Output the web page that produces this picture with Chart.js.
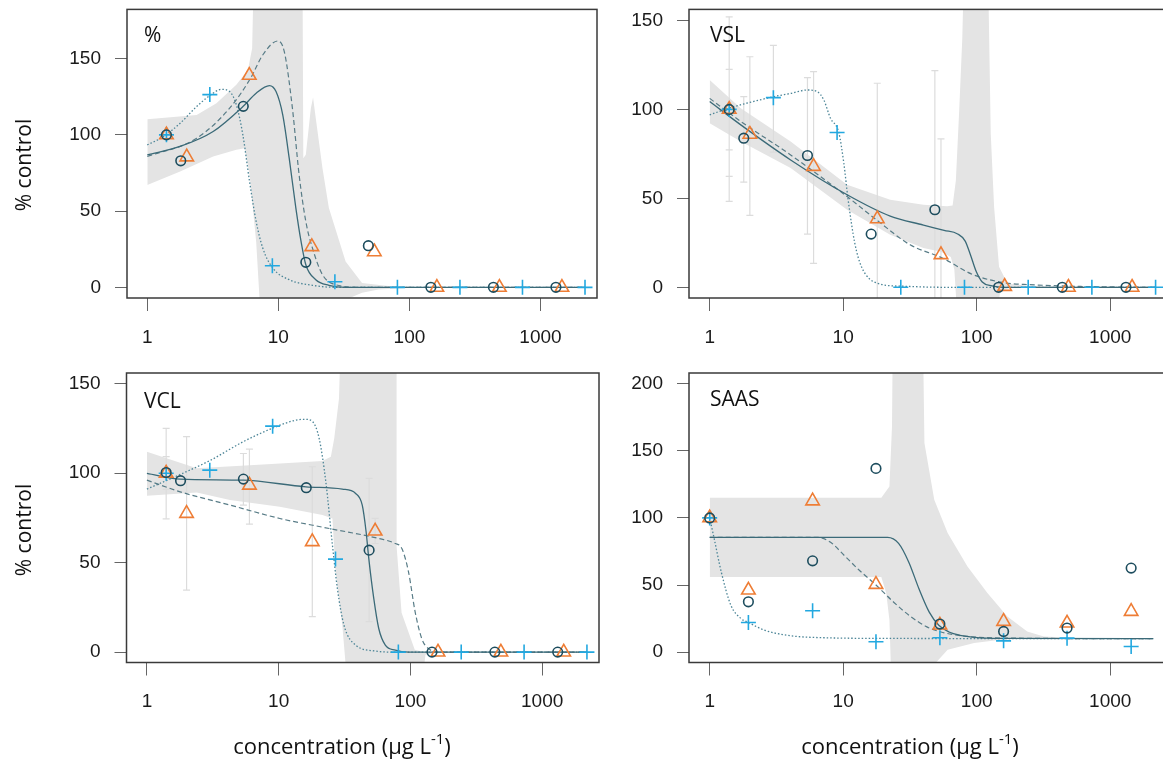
<!DOCTYPE html>
<html>
<head>
<meta charset="utf-8">
<script src="https://cdn.jsdelivr.net/npm/chart.js@4.4.1/dist/chart.umd.min.js"></script>
<style>
  html, body { margin: 0; padding: 0; background: #fff; overflow: hidden; width: 1163px; height: 762px; }
  .panel { position: absolute; }
  .txt { position: absolute; font-family: 'Open Sans', sans-serif; color: #111; white-space: nowrap; line-height: 1; }
  .ptitle { font-size: 21px; }
  .ytitle { font-size: 21px; transform: translate(-50%, -50%) rotate(-90deg); }
  .xtitle { font-size: 22px; transform: translateX(-50%); }
  .xtitle span { font-size: 15px; position: relative; top: -10px; }
</style>
</head>
<body>
<div class="panel" style="left:0;top:0;width:620px;height:362px"><canvas id="c1"></canvas></div>
<div class="panel" style="left:600px;top:0;width:580px;height:362px"><canvas id="c2"></canvas></div>
<div class="panel" style="left:0;top:362px;width:620px;height:400px"><canvas id="c3"></canvas></div>
<div class="panel" style="left:600px;top:362px;width:580px;height:400px"><canvas id="c4"></canvas></div>

<div class="txt ptitle" style="left:144px;top:24px">%</div>
<div class="txt ptitle" style="left:710px;top:24px">VSL</div>
<div class="txt ptitle" style="left:144px;top:390px">VCL</div>
<div class="txt ptitle" style="left:710px;top:388px">SAAS</div>
<div class="txt ytitle" style="left:23px;top:165px">% control</div>
<div class="txt ytitle" style="left:23px;top:530px">% control</div>
<div class="txt xtitle" style="left:342px;top:734px">concentration (µg L<span>-1</span>)</div>
<div class="txt xtitle" style="left:910px;top:734px">concentration (µg L<span>-1</span>)</div>

<script>
// concentrations (µg/L); first value is the control
const concCircle = [1.4, 1.8, 5.4, 16.2, 48.6, 145.8, 437.4, 1312];
const concTriangle = [1.4, 2, 6, 18, 54, 162, 486, 1458];
const concCross = [1.4, 3, 9, 27, 81, 243, 729, 2187];
const concSAAS = [1, 1.95, 5.9, 17.6, 53, 159, 475, 1435];

const xTicks = [1, 10, 100, 1000];
const yTicks150 = [0, 50, 100, 150];
const yTicks200 = [0, 50, 100, 150, 200];

// % panel
const pctCircle = [100, 83, 118.7, 16.4, 27.3, 0, 0, 0];
const pctTriangle = [100, 85.5, 139, 26.6, 23.3, 0, 0, 0];
const pctCross = [100, 126.4, 14.2, 3.7, 0, 0, 0, 0];
const pctSolid = [[1,86.9],[1.78,92.4],[3.18,102.2],[5.37,118.6],[6.77,127.3],[8.55,132.3],[9.6,128.4],[10.8,113.1],[12.1,84.7],[13.6,52],[14.9,30.1],[16.2,14.8],[19.3,5],[24.3,1.3],[32.6,0],[2187,0]];
const pctDashed = [[1,85.8],[2.38,97.8],[4.25,117.5],[6.13,137.1],[7.6,152.4],[9.9,161.6],[11.1,154.6],[12.8,117.5],[14.4,73.8],[16.2,43.2],[18.2,25.8],[21.7,8.3],[27.3,1.7],[43.5,0],[2187,0]];
const pctDotted = [[1,93.4],[1.33,98.9],[1.78,107.6],[2.38,118.6],[3.09,126.6],[3.68,129.9],[4.25,128.4],[4.78,119.7],[5.36,100],[6.03,69.4],[6.77,43.2],[7.6,25.8],[9.06,12.7],[12.1,5],[18.2,1.3],[27.3,0],[2187,0]];
const pctBandUpper = [[1,110.3],[2.38,113.1],[3.37,120.7],[4.78,132.8],[5.86,142.6],[6.31,156.8],[6.47,200],[15.3,200],[15.5,84.7],[16.2,86.9],[17.7,117.5],[18.4,124.5],[19.3,110.9],[21.7,78.2],[24.3,52],[32.6,17],[43.5,2.8],[77.9,0.4],[2187,0]];
const pctBandLower = [[1,67.2],[1.78,76],[3.18,85.8],[4.78,90.2],[5.53,91.3],[6.03,73.8],[6.77,30.1],[7.18,-7],[7.3,-20],[28,-20],[35,-7],[43.5,-3.5],[58,-1.5],[104,-0.3],[2187,0]];

// VSL panel
const vslCircle = [100, 83.8, 74.1, 29.9, 43.6, 0, 0, 0];
const vslTriangle = [100, 86, 67.9, 38.5, 18.3, 0.5, 0, 0];
const vslCross = [100, 106.6, 87, 0, 0, 0, 0, 0];
const vslSolid = [[1,104.4],[1.71,91.3],[4.04,71.6],[10.7,52],[22.5,40],[39.9,35],[57,32],[72,30],[82,26],[90,18],[99,9],[110,3],[130,0.8],[160,0],[2187,0]];
const vslDashed = [[1,106.2],[1.71,93.2],[4.04,74.4],[10.7,51],[18.4,37],[31.7,23.9],[55.3,16.5],[94.1,7.1],[167,2.4],[249,1.5],[600,0.5],[2187,0]];
const vslDotted = [[1,96.9],[1.38,100.6],[3.04,107.2],[4.04,109],[5.38,110.9],[6.39,110],[7.16,105.3],[8.03,95],[9.27,87],[10.1,70],[10.9,49],[12.2,25],[13.7,11.6],[18.2,2.2],[28.3,0.6],[60,0],[2187,0]];
const vslBandUpper = [[1,116.5],[1.71,100.6],[4.04,81.9],[10.7,57.6],[22.5,49.2],[39.9,46.4],[60,45.5],[66,46],[69.8,60],[74,100],[78,140],[81.5,200],[120.3,200],[127.4,86.4],[135,45.2],[147,11.6],[170,2.2],[250,0.8],[2187,0.3]];
const vslBandLower = [[1,92.2],[1.71,81.9],[4.04,67],[10.7,43.6],[22.5,29.6],[39.9,22.1],[54,20],[64,17],[68,10],[72,-20],[140,-20],[150,-2],[175,-0.4],[2187,0]];
const vslErrX = [1.4, 1.4, 1.4, 1.8, 2, 3, 5.4, 6, 18, 48.6, 54];
const vslErrLo = [48.3, 62.3, 77.3, 59.1, 40.4, 76, 29.9, 13.5, -10, -10, -10];
const vslErrHi = [152, 122.5, 100, 107.2, 129.6, 136, 117.8, 121.2, 114.7, 121.8, 83.4];

// VCL panel
const vclCircle = [100.4, 95.8, 96.7, 91.9, 57, 0, 0, 0];
const vclTriangle = [100, 77.5, 93.3, 61.7, 67.6, 0, 0, 0];
const vclCross = [100, 101.7, 126.3, 52, 0, 0, 0, 0];
const vclSolid = [[1,99.9],[1.79,96.7],[5.38,96.1],[16.1,92.4],[30.4,91.1],[38.4,88.7],[43.1,82.2],[46.1,67.3],[48.3,52.4],[52.7,30],[57.5,13.2],[64.5,3.9],[76.8,1.1],[96.7,0],[2187,0]];
const vclDashed = [[1,96.1],[1.79,89.6],[4.27,82.2],[10.2,74.7],[24.2,69.1],[57.5,63.5],[76.8,60.7],[86.1,57.9],[96.7,44.9],[108.6,22.5],[121.9,7.6],[136.8,2],[172,0],[2187,0]];
const vclDotted = [[1,91.1],[1.79,99.3],[3.05,107.3],[5.38,117.6],[9.15,125.4],[13.6,129.7],[16.1,130.1],[18.1,128.8],[20.3,119.4],[22.8,95.2],[25.6,59.8],[27.9,35.6],[31.3,15.1],[38.4,3.9],[54.2,0.6],[76.8,0],[2187,0]];
const vclBandUpper = [[1,112],[2.39,102.7],[7.6,104.9],[21.5,106.8],[24.9,109.2],[26.4,119.4],[28.7,141.8],[30.3,200],[78.5,200],[78.6,58.9],[85.7,22],[107.9,1.3],[127.6,0],[2187,0]];
const vclBandLower = [[1,87.4],[2.39,89.2],[4.27,85],[10.2,81.2],[21.5,76.6],[25.6,74.7],[27,44.9],[30.4,15.1],[32.1,-5.4],[33,-20],[121.9,-20],[130,-1.5],[180,0],[2187,0]];
const vclErrX = [1.4, 1.4, 2, 5.4, 6, 18, 48.6, 54];
const vclErrLo = [74.5, 91, 34.7, 82.2, 71.5, 19.8, 17, 60.7];
const vclErrHi = [125, 109.3, 120.4, 111, 113.5, 103.6, 97.1, 74.7];

// SAAS panel
const saasCircle = [100, 37.5, 68, 136.9, 20.9, 15.4, 17.9, 62.6];
const saasTriangle = [100, 46.2, 112.6, 50.4, 20.1, 22.8, 21.6, 30.3];
const saasCross = [100, 22.1, 30.8, 7.7, 10.7, 8.4, 10.4, 4.2];
const saasSolid = [[1,85.5],[21.5,85.5],[26,81],[31,67],[37,47],[44,30],[52,20],[62,15],[75,12.5],[96,11],[150,10.2],[2100,10]];
const saasDashed = [[1,85.5],[6.4,85.5],[8,82],[10.2,72],[13.2,61],[17.6,50],[24,37],[32,26.5],[42,19],[54,15],[80,12],[150,10.5],[2100,10]];
const saasDotted = [[1,100],[1.08,84.7],[1.22,59.9],[1.44,35],[1.71,25.1],[1.95,22.1],[2.56,16.4],[4.04,12.2],[7.16,10.7],[22.5,10.2],[2100,10]];
const saasBandUpper = [[1,115],[19.3,115],[22.2,123.4],[23.2,168],[23.6,250],[39.4,250],[40.6,155.8],[48.1,113.5],[60.6,88.7],[85.3,63.8],[120.3,44],[169.7,26.5],[239,15.4],[318,11.6],[600,10.3],[2100,10]];
const saasBandLower = [[1,56],[19.3,56],[21,44],[22.2,24],[22.9,-20],[38.3,-20],[60.6,1.7],[95.7,6.7],[151,9.2],[239,10.1],[600,10],[2100,10]];

const colCircle = '#1d4d5e';
const colTriangle = '#ee7d35';
const colCross = '#22a8e0';
const colSolid = '#3b6a78';
const colDashed = '#587c87';
const colDotted = '#4c8597';
const colBand = '#e4e4e4';
const colErr = '#dcdcdc';
const tickFont = { family: "'Liberation Sans', Arial, sans-serif", size: 19 };

const xy = (xs, ys) => xs.map((x, i) => ({ x: x, y: ys[i] }));
const pairs = arr => arr.map(p => ({ x: p[0], y: p[1] }));
function errData(xs, lo, hi) {
  const out = [];
  xs.forEach((x, i) => { out.push({ x: x, y: lo[i] }, { x: x, y: hi[i] }, { x: x, y: null }); });
  return out;
}

const boxPlugin = {
  id: 'box',
  afterDraw(chart) {
    const a = chart.chartArea, c = chart.ctx;
    c.save();
    c.strokeStyle = '#3a3a3a';
    c.lineWidth = 1.5;
    c.strokeRect(a.left, a.top, a.right - a.left, a.bottom - a.top);
    c.restore();
  }
};

function makePanel(id, p) {
  const datasets = [
    { data: xy(p.concC, p.circle), showLine: false, pointStyle: 'circle', pointRadius: 4.8,
      pointBorderColor: colCircle, pointBackgroundColor: 'rgba(0,0,0,0)', pointBorderWidth: 1.6, order: 0 },
    { data: xy(p.concT, p.triangle), showLine: false, pointStyle: 'triangle', pointRadius: 7.8,
      pointBorderColor: colTriangle, pointBackgroundColor: 'rgba(0,0,0,0)', pointBorderWidth: 1.6, order: 0 },
    { data: xy(p.concX, p.cross), showLine: false, pointStyle: 'cross', pointRadius: 7.5,
      pointBorderColor: colCross, pointBorderWidth: 1.6, order: 0 },
    { data: pairs(p.solid), pointRadius: 0, borderColor: colSolid, borderWidth: 1.3,
      cubicInterpolationMode: 'monotone', fill: false, order: 1 },
    { data: pairs(p.dashed), pointRadius: 0, borderColor: colDashed, borderWidth: 1.2, borderDash: [5, 3],
      cubicInterpolationMode: 'monotone', fill: false, order: 1 },
    { data: pairs(p.dotted), pointRadius: 0, borderColor: colDotted, borderWidth: 1.3, borderDash: [1.5, 2],
      cubicInterpolationMode: 'monotone', fill: false, order: 1 },
    { data: pairs(p.bandUpper), pointRadius: 0, borderWidth: 0, borderColor: 'rgba(0,0,0,0)',
      backgroundColor: colBand, fill: '+1', order: 3 },
    { data: pairs(p.bandLower), pointRadius: 0, borderWidth: 0, borderColor: 'rgba(0,0,0,0)',
      fill: false, order: 3 }
  ];
  if (p.errX) {
    datasets.push({ data: errData(p.errX, p.errLo, p.errHi), borderColor: colErr, borderWidth: 1.2,
      pointStyle: 'line', pointRadius: 3.5, pointBorderColor: colErr, pointBorderWidth: 1.2,
      spanGaps: false, fill: false, order: 2 });
  }
  return new Chart(document.getElementById(id), {
    type: 'line',
    data: { datasets: datasets },
    options: {
      responsive: true,
      maintainAspectRatio: false,
      animation: false,
      layout: { padding: { left: 0, top: p.padTop, right: p.padRight, bottom: 0 } },
      plugins: { legend: { display: false }, tooltip: { enabled: false } },
      scales: {
        x: {
          type: 'logarithmic', min: p.xmin, max: p.xmax,
          afterBuildTicks: s => { s.ticks = xTicks.map(v => ({ value: v })); },
          afterFit: s => { s.height = p.xH; s.paddingLeft = 0; s.paddingRight = 0; },
          ticks: { callback: v => String(v), font: tickFont, color: '#1a1a1a', padding: 15, autoSkip: false, maxRotation: 0 },
          grid: { drawOnChartArea: false, drawTicks: true, tickLength: 13, color: '#666', lineWidth: 1 },
          border: { display: false }
        },
        y: {
          type: 'linear', min: p.ymin, max: p.ymax,
          afterBuildTicks: s => { s.ticks = p.yTicks.map(v => ({ value: v })); },
          afterFit: s => { s.width = p.yW; s.paddingTop = 0; s.paddingBottom = 0; },
          ticks: { callback: v => String(v), font: tickFont, color: '#1a1a1a', padding: 14 },
          grid: { drawOnChartArea: false, drawTicks: true, tickLength: 12, color: '#666', lineWidth: 1 },
          border: { display: false }
        }
      }
    },
    plugins: [boxPlugin]
  });
}

makePanel('c1', {
  concC: concCircle, concT: concTriangle, concX: concCross,
  circle: pctCircle, triangle: pctTriangle, cross: pctCross,
  solid: pctSolid, dashed: pctDashed, dotted: pctDotted,
  bandUpper: pctBandUpper, bandLower: pctBandLower,
  xmin: 0.745, xmax: 2700, ymin: -7, ymax: 182.3, yTicks: yTicks150,
  padTop: 9, padRight: 23, yW: 127, xH: 64
});
makePanel('c2', {
  concC: concCircle, concT: concTriangle, concX: concCross,
  circle: vslCircle, triangle: vslTriangle, cross: vslCross,
  solid: vslSolid, dashed: vslDashed, dotted: vslDotted,
  bandUpper: vslBandUpper, bandLower: vslBandLower,
  errX: vslErrX, errLo: vslErrLo, errHi: vslErrHi,
  xmin: 0.725, xmax: 2640, ymin: -6, ymax: 156.2, yTicks: yTicks150,
  padTop: 9, padRight: 13.5, yW: 89, xH: 64
});
makePanel('c3', {
  concC: concCircle, concT: concTriangle, concX: concCross,
  circle: vclCircle, triangle: vclTriangle, cross: vclCross,
  solid: vclSolid, dashed: vclDashed, dotted: vclDotted,
  bandUpper: vclBandUpper, bandLower: vclBandLower,
  errX: vclErrX, errLo: vclErrLo, errHi: vclErrHi,
  xmin: 0.747, xmax: 2700, ymin: -5.8, ymax: 156, yTicks: yTicks150,
  padTop: 11, padRight: 21, yW: 126.5, xH: 99.5
});
makePanel('c4', {
  concC: concSAAS, concT: concSAAS, concX: concSAAS,
  circle: saasCircle, triangle: saasTriangle, cross: saasCross,
  solid: saasSolid, dashed: saasDashed, dotted: saasDotted,
  bandUpper: saasBandUpper, bandLower: saasBandLower,
  xmin: 0.725, xmax: 2640, ymin: -7.75, ymax: 208, yTicks: yTicks200,
  padTop: 11, padRight: 13.5, yW: 89, xH: 99.5
});
</script>
</body>
</html>
